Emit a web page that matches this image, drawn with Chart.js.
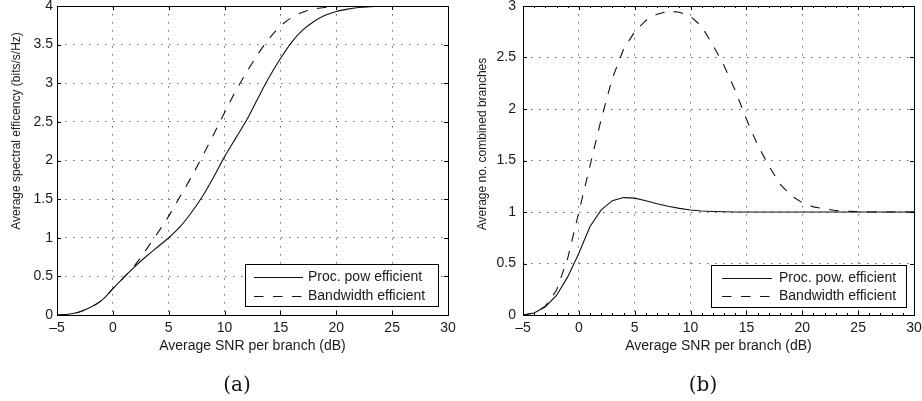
<!DOCTYPE html>
<html><head><meta charset="utf-8">
<script src="https://cdn.jsdelivr.net/npm/chart.js@4.4.1/dist/chart.umd.min.js"></script>
<style>
html,body{margin:0;padding:0;background:#fff;}
#wrap{position:relative;width:922px;height:401px;overflow:hidden;background:#fff;}
canvas{position:absolute;top:0;}
.cap{position:absolute;top:371px;font:20px "DejaVu Serif",serif;color:#111;width:60px;text-align:center;line-height:26px;}
</style></head><body>
<div id="wrap">
<canvas id="ca" width="461" height="401" style="left:0"></canvas>
<canvas id="cb" width="461" height="401" style="left:461px"></canvas>
<div class="cap" style="left:207px">(a)</div>
<div class="cap" style="left:673px">(b)</div>
</div>
<script>
// ---- data ----
const snr = [-5,-4,-3,-2,-1,0,1,2,3,4,5,6,7,8,9,10,11,12,13,14,15,16,17,18,19,20,21,22,23,24,25,26,27,28,29,30];
const specProc = [0,0.01,0.04,0.1,0.19,0.34,0.49,0.63,0.76,0.88,1.0,1.14,1.32,1.53,1.78,2.05,2.29,2.53,2.81,3.08,3.32,3.53,3.69,3.8,3.88,3.93,3.96,3.98,3.99,3.997,4,4,4,4,4,4];
const specBw = [0,0.01,0.04,0.1,0.19,0.34,0.49,0.65,0.85,1.06,1.28,1.53,1.78,2.05,2.33,2.62,2.9,3.15,3.38,3.58,3.74,3.85,3.92,3.96,3.98,3.99,4,4,4,4,4,4,4,4,4,4];
const branchProc = [0,0.02,0.08,0.19,0.37,0.6,0.86,1.02,1.11,1.14,1.135,1.11,1.08,1.055,1.035,1.02,1.01,1.005,1.002,1,1,1,1,1,1,1,1,1,1,1,1,1,1,1,1,1];
const branchBw = [0,0.02,0.085,0.24,0.55,1.0,1.45,1.9,2.3,2.58,2.75,2.86,2.92,2.95,2.94,2.9,2.8,2.62,2.42,2.18,1.9,1.65,1.45,1.27,1.16,1.09,1.05,1.03,1.015,1.007,1.003,1,1,1,1,1];
const xTicks = [-5,0,5,10,15,20,25,30];
const yTicksA = [0,0.5,1,1.5,2,2.5,3,3.5,4];
const yTicksB = [0,0.5,1,1.5,2,2.5,3];
const legendA = ['Proc. pow efficient','Bandwidth efficient'];
const legendB = ['Proc. pow. efficient','Bandwidth efficient'];
const xTitle = 'Average SNR per branch (dB)';
const yTitleA = 'Average spectral efficency (bits/s/Hz)';
const yTitleB = 'Average no. combined branches';

const FONT = 'Liberation Sans, Arial, sans-serif';
const INK = '#1a1a1a';

const matlabPlugin = {
  id: 'matlab',
  afterDraw(chart, args, o) {
    const {ctx, chartArea: a} = chart;
    const x = chart.scales.x, y = chart.scales.y;
    ctx.save();
    ctx.strokeStyle = '#000';
    ctx.lineWidth = 1;
    ctx.setLineDash([]);
    const L = 4;
    ctx.beginPath();
    x.ticks.forEach(t => {
      const px = Math.round(x.getPixelForValue(t.value)) + 0.5;
      ctx.moveTo(px, a.bottom); ctx.lineTo(px, a.bottom - L);
      ctx.moveTo(px, a.top); ctx.lineTo(px, a.top + L);
    });
    y.ticks.forEach(t => {
      const py = Math.round(y.getPixelForValue(t.value)) + 0.5;
      ctx.moveTo(a.left, py); ctx.lineTo(a.left + L, py);
      ctx.moveTo(a.right, py); ctx.lineTo(a.right - L, py);
    });
    if (o.minorX) {
      for (let v = x.min; v <= x.max; v += o.minorX) {
        const px = Math.round(x.getPixelForValue(v)) + 0.5;
        ctx.moveTo(px, a.bottom); ctx.lineTo(px, a.bottom - 2);
        ctx.moveTo(px, a.top); ctx.lineTo(px, a.top + 2);
      }
    }
    ctx.stroke();
    ctx.strokeRect(Math.round(a.left) + 0.5, Math.round(a.top) + 0.5,
                   Math.round(a.right - a.left), Math.round(a.bottom - a.top));

    // legend
    const lg = o.legend;
    const bx = Math.round(a.right - lg.right - lg.width);
    const by = Math.round(a.bottom - lg.bottom - lg.height);
    ctx.fillStyle = '#fff';
    ctx.fillRect(bx, by, lg.width, lg.height);
    ctx.strokeStyle = '#000';
    ctx.strokeRect(bx + 0.5, by + 0.5, lg.width, lg.height);
    ctx.font = '14px ' + FONT;
    ctx.textAlign = 'left';
    ctx.textBaseline = 'middle';
    chart.data.datasets.forEach((ds, i) => {
      const cy = Math.round(by + lg.row0 + i * lg.rowGap) + 0.5;
      ctx.strokeStyle = ds.borderColor;
      ctx.lineWidth = ds.borderWidth;
      ctx.setLineDash(ds.borderDash || []);
      ctx.beginPath();
      ctx.moveTo(bx + lg.lineX0, cy);
      ctx.lineTo(bx + lg.lineX1, cy);
      ctx.stroke();
      ctx.setLineDash([]);
      ctx.fillStyle = INK;
      ctx.fillText(ds.label, bx + lg.textX, cy);
    });

    // y axis title
    const yt = o.yTitle;
    ctx.translate(yt.x, yt.y);
    ctx.rotate(-Math.PI / 2);
    ctx.font = '12px ' + FONT;
    ctx.fillStyle = INK;
    ctx.textAlign = 'center';
    ctx.textBaseline = 'middle';
    ctx.fillText(yt.text, 0, 0);
    ctx.restore();
  }
};

function makeChart(id, s1, s2, labels, yMax, yTicks, opt) {
  const pts = arr => snr.map((v, i) => ({x: v, y: arr[i]}));
  const common = {borderColor: '#111', borderWidth: 1.1, pointRadius: 0, fill: false,
                  tension: 0, cubicInterpolationMode: opt.interp};
  return new Chart(document.getElementById(id), {
    type: 'line',
    data: {datasets: [
      Object.assign({label: labels[0], data: pts(s1)}, common),
      Object.assign({label: labels[1], data: pts(s2), borderDash: [9.5, 9.5]}, common)
    ]},
    options: {
      responsive: false, animation: false, devicePixelRatio: 1,
      layout: {padding: {top: 6, right: opt.padRight, left: 0, bottom: 0}},
      plugins: {
        legend: {display: false}, tooltip: {enabled: false},
        matlab: {minorX: opt.minorX, legend: opt.legend, yTitle: opt.yTitle}
      },
      scales: {
        x: {
          type: 'linear', min: -5, max: 30,
          afterBuildTicks: s => { s.ticks = xTicks.map(v => ({value: v})); },
          afterFit: s => { s.height = 86; s.paddingLeft = 0; s.paddingRight = 0; },
          grid: {color: '#666', lineWidth: 1, drawTicks: false, borderDash: [1.5, 6.5]},
          border: {display: false, dash: [1.5, 6.5]},
          ticks: {padding: 5, color: INK, font: {family: FONT, size: 14},
                  callback: v => String(v).replace('-', '\u2013')},
          title: {display: true, text: xTitle, color: INK, font: {family: FONT, size: 14},
                  padding: {top: 0, bottom: 46}}
        },
        y: {
          type: 'linear', min: 0, max: yMax,
          afterBuildTicks: s => { s.ticks = yTicks.map(v => ({value: v})); },
          afterFit: s => { s.width = opt.yWidth; s.paddingTop = 0; s.paddingBottom = 0; },
          grid: {color: '#666', lineWidth: 1, drawTicks: false, borderDash: [1.5, 6.5]},
          border: {display: false, dash: [1.5, 6.5]},
          ticks: {padding: opt.yPad, color: INK, font: {family: FONT, size: 14},
                  callback: v => String(v)}
        }
      }
    },
    plugins: [matlabPlugin]
  });
}

makeChart('ca', specProc, specBw, legendA, 4, yTicksA, {
  interp: 'monotone', padRight: 13, yWidth: 57, yPad: 4, minorX: 0,
  legend: {width: 193, height: 42, right: 10, bottom: 9, row0: 13.4, rowGap: 18.3, lineX0: 9, lineX1: 58, textX: 63},
  yTitle: {x: 17, y: 131, text: yTitleA}
});
makeChart('cb', branchProc, branchBw, legendB, 3, yTicksB, {
  interp: 'default', padRight: 8, yWidth: 62, yPad: 7, minorX: 1,
  legend: {width: 195, height: 42, right: 8, bottom: 8, row0: 12.5, rowGap: 18, lineX0: 11, lineX1: 61, textX: 68},
  yTitle: {x: 21.5, y: 144, text: yTitleB}
});
</script>
</body></html>
